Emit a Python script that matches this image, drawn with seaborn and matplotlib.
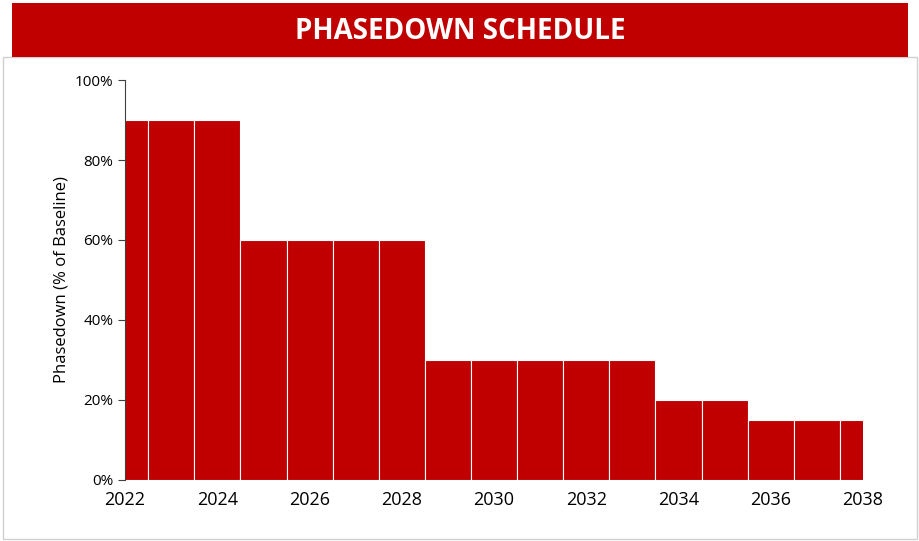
import matplotlib
matplotlib.use("Agg")
import matplotlib.pyplot as plt
import matplotlib.ticker as mticker
from matplotlib.patches import Rectangle
import pandas as pd
import seaborn as sns

RED = "#C00000"

years = list(range(2022, 2039))
values = [90, 90, 90, 60, 60, 60, 60, 30, 30, 30, 30, 30, 20, 20, 15, 15, 15]
x_ticks = list(range(2022, 2039, 2))

df = pd.DataFrame({"year": years, "phasedown": values})

plt.rcParams["font.family"] = "Open Sans"
fig = plt.figure(figsize=(9.2, 5.41), dpi=100)

# outer border + title banner
fig.patches.append(Rectangle((0.003, 0.004), 0.994, 0.89, transform=fig.transFigure,
                             fill=False, edgecolor="#d0d0d0", linewidth=1))
fig.patches.append(Rectangle((0.013, 0.895), 0.974, 0.1, transform=fig.transFigure,
                             facecolor=RED, edgecolor="none"))
fig.text(0.5, 0.942, "PHASEDOWN SCHEDULE", ha="center", va="center",
         color="white", fontsize=20, fontweight="bold")

ax = fig.add_axes([0.136, 0.113, 0.802, 0.739])
sns.barplot(data=df, x="year", y="phasedown", native_scale=True, width=1,
            color=RED, saturation=1, edgecolor="white", linewidth=0.8, ax=ax)

ax.set_xlim(2022, 2038)
ax.set_ylim(0, 100)
ax.set_xticks(x_ticks)
ax.set_yticks(range(0, 101, 20))
ax.yaxis.set_major_formatter(mticker.FuncFormatter(lambda v, _: f"{v:.0f}%"))
ax.tick_params(axis="x", length=0, labelsize=13, pad=8)
ax.tick_params(axis="y", labelsize=11, length=5, color="#404040")
ax.set_xlabel("")
ax.set_ylabel("Phasedown (% of Baseline)", fontsize=12)
for s in ["top", "right", "bottom"]:
    ax.spines[s].set_visible(False)
ax.spines["left"].set_color("#404040")

fig.savefig("out.png", dpi=100)
